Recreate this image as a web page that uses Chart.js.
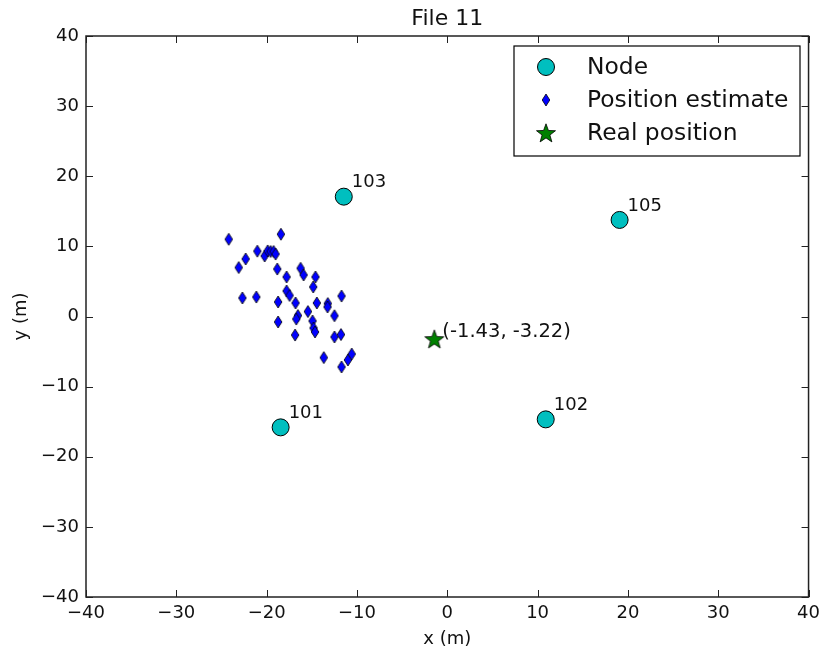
<!DOCTYPE html>
<html>
<head>
<meta charset="utf-8">
<script src="https://cdn.jsdelivr.net/npm/chart.js@4/dist/chart.umd.min.js"></script>
<style>
  html, body { margin: 0; padding: 0; background: #fff; }
  canvas { display: block; }
</style>
</head>
<body>
<canvas id="chart" width="826" height="657"></canvas>
<script>
// node anchors
const nodeIds = ['101', '102', '103', '105'];
const nodeX = [-18.45, 10.9, -11.46, 19.08];
const nodeY = [-15.81, -14.67, 17.09, 13.77];

// position estimates
const estX = [-24.20, -18.42, -21.03, -20.22, -19.89, -19.56, -19.23, -19.01, -22.32, -23.09,
  -18.82, -17.79, -16.24, -15.91, -14.59, -14.84, -17.79, -17.46, -22.68, -21.14,
  -18.73, -16.80, -14.44, -13.23, -13.26, -11.71, -15.43, -16.54, -16.72, -18.73,
  -12.49, -14.92, -14.81, -14.64, -16.85, -12.49, -11.77, -13.67, -11.71, -11.00, -10.58];
const estY = [11.01, 11.73, 9.32, 8.63, 9.35, 9.27, 9.27, 8.91, 8.20, 6.98,
  6.77, 5.64, 6.88, 5.92, 5.64, 4.21, 3.64, 3.00, 2.64, 2.78,
  2.07, 1.93, 1.93, 1.85, 1.36, 2.92, 0.71, 0.14, -0.36, -0.78,
  0.11, -0.64, -1.64, -2.21, -2.64, -2.92, -2.57, -5.86, -7.20, -6.20, -5.35];

// real position
const realX = [-1.43];
const realY = [-3.22];

const tickValues = [-40, -30, -20, -10, 0, 10, 20, 30, 40];
const FONT = 'DejaVu Sans';

function toPoints(xs, ys) {
  return xs.map((x, i) => ({ x: x, y: ys[i] }));
}

function diamondImg() {
  const c = document.createElement('canvas');
  c.width = 10; c.height = 14;
  const g = c.getContext('2d');
  g.beginPath();
  g.moveTo(5, 1); g.lineTo(8.8, 7); g.lineTo(5, 13); g.lineTo(1.2, 7); g.closePath();
  g.fillStyle = '#0000ff'; g.fill();
  g.lineWidth = 0.8; g.strokeStyle = '#000'; g.stroke();
  return c;
}

function starImg() {
  const c = document.createElement('canvas');
  c.width = 22; c.height = 22;
  const g = c.getContext('2d');
  const R = 10, r = 4.1, cx = 11, cy = 11.8;
  g.beginPath();
  for (let i = 0; i < 10; i++) {
    const a = -Math.PI / 2 + i * Math.PI / 5;
    const rr = i % 2 === 0 ? R : r;
    const px = cx + rr * Math.cos(a), py = cy + rr * Math.sin(a);
    if (i === 0) g.moveTo(px, py); else g.lineTo(px, py);
  }
  g.closePath();
  g.fillStyle = '#008000'; g.fill();
  g.lineWidth = 0.8; g.strokeStyle = '#000'; g.stroke();
  return c;
}

const diamond = diamondImg();
const star = starImg();

function fmt(v) {
  return v < 0 ? '\u2212' + Math.abs(v) : String(v);
}

const framePlugin = {
  id: 'frame',
  afterDatasetsDraw(chart) {
    const ctx = chart.ctx;
    const a = chart.chartArea;
    const xs = chart.scales.x, ys = chart.scales.y;
    ctx.save();
    ctx.strokeStyle = '#222';
    ctx.lineWidth = 1;
    // inward ticks on all four sides
    ctx.beginPath();
    tickValues.forEach(v => {
      const px = Math.round(xs.getPixelForValue(v)) + 0.5;
      ctx.moveTo(px, a.bottom); ctx.lineTo(px, a.bottom - 7);
      ctx.moveTo(px, a.top); ctx.lineTo(px, a.top + 7);
      const py = Math.round(ys.getPixelForValue(v)) + 0.5;
      ctx.moveTo(a.left, py); ctx.lineTo(a.left + 7, py);
      ctx.moveTo(a.right, py); ctx.lineTo(a.right - 7, py);
    });
    ctx.stroke();
    ctx.lineWidth = 1.5;
    ctx.strokeRect(a.left, a.top, a.right - a.left, a.bottom - a.top);

    // annotations
    ctx.fillStyle = '#111';
    ctx.font = '18px "' + FONT + '"';
    ctx.textAlign = 'left';
    ctx.textBaseline = 'middle';
    nodeIds.forEach((id, i) => {
      const px = xs.getPixelForValue(nodeX[i]);
      const py = ys.getPixelForValue(nodeY[i]);
      ctx.fillText(id, px + 8, py - 14);
    });
    const sx = xs.getPixelForValue(realX[0]);
    const sy = ys.getPixelForValue(realY[0]);
    ctx.font = '19.5px "' + FONT + '"';
    ctx.fillText('(' + realX[0].toFixed(2) + ', ' + realY[0].toFixed(2) + ')', sx + 8, sy - 7);

    // title
    ctx.font = '22px "' + FONT + '"';
    ctx.textAlign = 'center';
    ctx.fillText('File 11', (a.left + a.right) / 2, 19);

    // legend
    const lx = 514, ly = 46, lw = 286, lh = 110;
    ctx.fillStyle = '#fff';
    ctx.fillRect(lx, ly, lw, lh);
    ctx.lineWidth = 1.2;
    ctx.strokeStyle = '#000';
    ctx.strokeRect(lx, ly, lw, lh);
    const rows = [67, 100, 133];
    ctx.font = '23.4px "' + FONT + '"';
    ctx.textAlign = 'left';
    chart.data.datasets.slice().reverse().forEach((ds, i) => {
      const y = rows[i];
      if (ds.pointStyle === 'circle') {
        ctx.beginPath();
        ctx.arc(546, y, 8.5, 0, Math.PI * 2);
        ctx.fillStyle = ds.backgroundColor; ctx.fill();
        ctx.lineWidth = 1; ctx.strokeStyle = '#000'; ctx.stroke();
      } else {
        const img = ds.pointStyle;
        ctx.drawImage(img, 546 - img.width / 2, y - img.height / 2);
      }
      ctx.fillStyle = '#111';
      ctx.fillText(ds.label, 587, y + 1);
    });
    ctx.restore();
  }
};

new Chart(document.getElementById('chart'), {
  type: 'scatter',
  data: {
    datasets: [
      {
        label: 'Real position',
        data: toPoints(realX, realY),
        pointStyle: star,
        pointRadius: 10
      },
      {
        label: 'Position estimate',
        data: toPoints(estX, estY),
        pointStyle: diamond,
        pointRadius: 6
      },
      {
        label: 'Node',
        data: toPoints(nodeX, nodeY),
        pointStyle: 'circle',
        pointRadius: 8.5,
        backgroundColor: '#00bfbf',
        borderColor: '#000',
        borderWidth: 1
      }
    ]
  },
  options: {
    responsive: false,
    animation: false,
    layout: { padding: { left: 0, right: 16, top: 36, bottom: 0 } },
    plugins: {
      legend: { display: false },
      tooltip: { enabled: false },
      title: { display: false }
    },
    scales: {
      x: {
        type: 'linear',
        min: -40, max: 40,
        afterFit: s => { s.height = 60; },
        afterBuildTicks: s => { s.ticks = tickValues.map(v => ({ value: v })); },
        grid: { display: false, drawTicks: false },
        border: { display: false },
        ticks: {
          padding: 6,
          color: '#111',
          font: { family: FONT, size: 18 },
          callback: v => fmt(v)
        },
        title: {
          display: true,
          text: 'x (m)',
          color: '#111',
          font: { family: FONT, size: 18 },
          padding: { top: 0, bottom: 7 }
        }
      },
      y: {
        type: 'linear',
        min: -40, max: 40,
        afterFit: s => { s.width = 86; },
        afterBuildTicks: s => { s.ticks = tickValues.map(v => ({ value: v })); },
        grid: { display: false, drawTicks: false },
        border: { display: false },
        ticks: {
          padding: 7,
          color: '#111',
          font: { family: FONT, size: 18 },
          callback: v => fmt(v)
        },
        title: {
          display: true,
          text: 'y (m)',
          color: '#111',
          font: { family: FONT, size: 18 },
          padding: { top: 11, bottom: 0 }
        }
      }
    }
  },
  plugins: [framePlugin]
});
</script>
</body>
</html>
